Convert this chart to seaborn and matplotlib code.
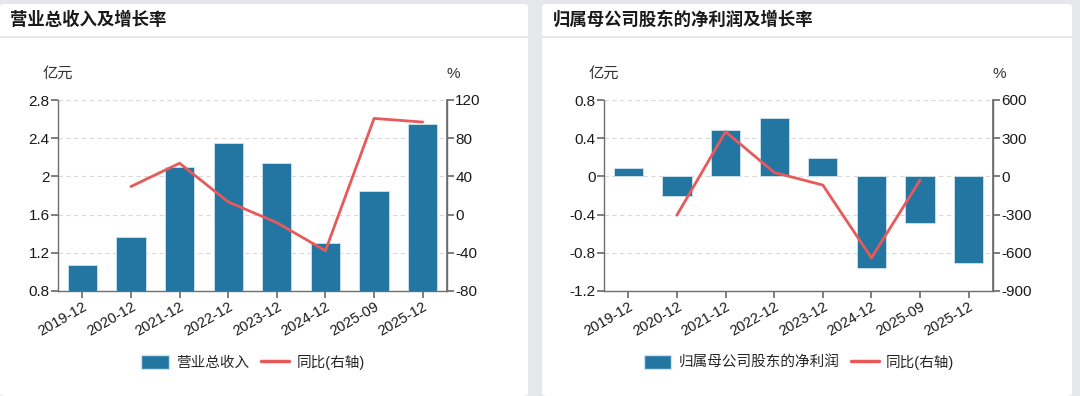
import numpy as np
import pandas as pd
import matplotlib
matplotlib.use('Agg')
import matplotlib.pyplot as plt
import seaborn as sns
from matplotlib.patches import FancyBboxPatch
from matplotlib.lines import Line2D
from matplotlib.ticker import FuncFormatter

# data
periods = ['2019-12', '2020-12', '2021-12', '2022-12', '2023-12', '2024-12', '2025-09', '2025-12']
revenue = [1.07, 1.37, 2.10, 2.35, 2.14, 1.30, 1.85, 2.55]          # 亿元
revenue_yoy = [np.nan, 29.4, 53.8, 13.3, -8.4, -37.8, 100.7, 96.9]   # %
profit = [0.09, -0.20, 0.49, 0.61, 0.19, -0.96, -0.49, -0.91]       # 亿元
profit_yoy = [np.nan, -304, 351, 31, -68, -640, -29, np.nan]         # %

sns.set_theme(style='white')
plt.rcParams['font.family'] = ['Liberation Sans', 'Noto Sans CJK SC', 'DejaVu Sans']
plt.rcParams['axes.unicode_minus'] = False

BAR = '#2376a1'
LINE = '#e8595a'
GREY_BG = '#e6e7eb'
SPINE = '#6e6e6e'

fig = plt.figure(figsize=(10.8, 3.96), dpi=100)
fig.patch.set_facecolor(GREY_BG)

# white cards with title strips
for x0, x1 in [(0, 528), (542, 1072)]:
    fig.patches.append(FancyBboxPatch((x0 / 1080, 0), (x1 - x0) / 1080, 392 / 396,
                                      boxstyle='round,pad=0,rounding_size=0.006',
                                      transform=fig.transFigure, facecolor='white',
                                      edgecolor='none', zorder=-5))
    fig.add_artist(Line2D([x0 / 1080, x1 / 1080], [1 - 37 / 396] * 2,
                          transform=fig.transFigure, color='#e2e3e6', lw=1.2, zorder=-4))

fmt = FuncFormatter(lambda v, p: '%g' % round(v, 2))


def panel(x_left, title, label, vals, yoy, ylim, yticks, y2lim, y2ticks, title_x):
    ax = fig.add_axes([x_left / 1080, 1 - 291 / 396, 389 / 1080, 191 / 396])
    ax.patch.set_alpha(0)
    df = pd.DataFrame({'period': periods, 'value': vals, 'yoy': yoy})
    sns.barplot(data=df, x='period', y='value', color=BAR, width=0.6, saturation=1,
                edgecolor='#cfe3ee', linewidth=0.6, ax=ax, zorder=3)
    ax.set_xlim(-0.5, len(periods) - 0.5)
    ax.set_ylim(*ylim)
    ax.set_yticks(yticks)
    ax.yaxis.set_major_formatter(fmt)
    ax.set_xlabel('')
    ax.set_ylabel('')
    ax.grid(axis='y', color='#d9d9d9', ls=(0, (4, 3)), lw=0.8, zorder=0)
    ax.set_axisbelow(True)
    ax.spines['top'].set_visible(False)
    for s in ['left', 'right', 'bottom']:
        ax.spines[s].set_color(SPINE)
        ax.spines[s].set_linewidth(1.0)
    ax.tick_params(axis='y', left=True, length=5, color=SPINE, labelsize=11, pad=1,
                   labelcolor='#1a1a1a')
    ax.tick_params(axis='x', bottom=True, length=5, color=SPINE, labelsize=10.5, pad=1,
                   labelcolor='#1a1a1a')
    plt.setp(ax.get_xticklabels(), rotation=30, ha='right', rotation_mode='anchor')

    ax2 = ax.twinx()
    df['pos'] = np.arange(len(periods))
    sns.lineplot(data=df.dropna(), x='pos', y='yoy', color=LINE, lw=2, ax=ax2, zorder=4)
    ax2.set_ylim(*y2lim)
    ax2.set_yticks(y2ticks)
    ax2.yaxis.set_major_formatter(fmt)
    ax2.set_xlabel('')
    ax2.set_ylabel('')
    ax2.set_xlim(-0.5, len(periods) - 0.5)
    for s in ['top', 'left', 'bottom']:
        ax2.spines[s].set_visible(False)
    ax2.spines['right'].set_color(SPINE)
    ax2.tick_params(axis='y', right=True, length=5, color=SPINE, labelsize=11, pad=1,
                    labelcolor='#1a1a1a')

    ax.text(0, 1.1, '亿元', transform=ax.transAxes, ha='center', va='bottom',
            fontsize=11, color='#333333')
    ax.text(1.015, 1.1, '%', transform=ax.transAxes, ha='center', va='bottom',
            fontsize=11, color='#333333')
    fig.text(title_x / 1080, 1 - 19 / 396, title, ha='left', va='center',
             fontsize=12.5, fontweight='bold', color='#1a1a1a')

    handles = [FancyBboxPatch((0, 0), 1, 1, boxstyle='round,pad=0,rounding_size=0.25',
                              facecolor=BAR, edgecolor='#cfe3ee'),
               Line2D([], [], color=LINE, lw=2.5)]
    fig.legend(handles, [label, '同比(右轴)'], loc='center', ncol=2, frameon=False,
               bbox_to_anchor=((x_left + 195) / 1080, 1 - 362 / 396), fontsize=10.5,
               handlelength=1.9, handleheight=1.1, handletextpad=0.5, columnspacing=0.8)


panel(58, '营业总收入及增长率', '营业总收入', revenue, revenue_yoy,
      (0.8, 2.8), [0.8, 1.2, 1.6, 2.0, 2.4, 2.8],
      (-80, 120), [-80, -40, 0, 40, 80, 120], 10)
panel(604, '归属母公司股东的净利润及增长率', '归属母公司股东的净利润', profit, profit_yoy,
      (-1.2, 0.8), [-1.2, -0.8, -0.4, 0, 0.4, 0.8],
      (-900, 600), [-900, -600, -300, 0, 300, 600], 553)

fig.savefig('out.png', dpi=100, facecolor=fig.get_facecolor())
